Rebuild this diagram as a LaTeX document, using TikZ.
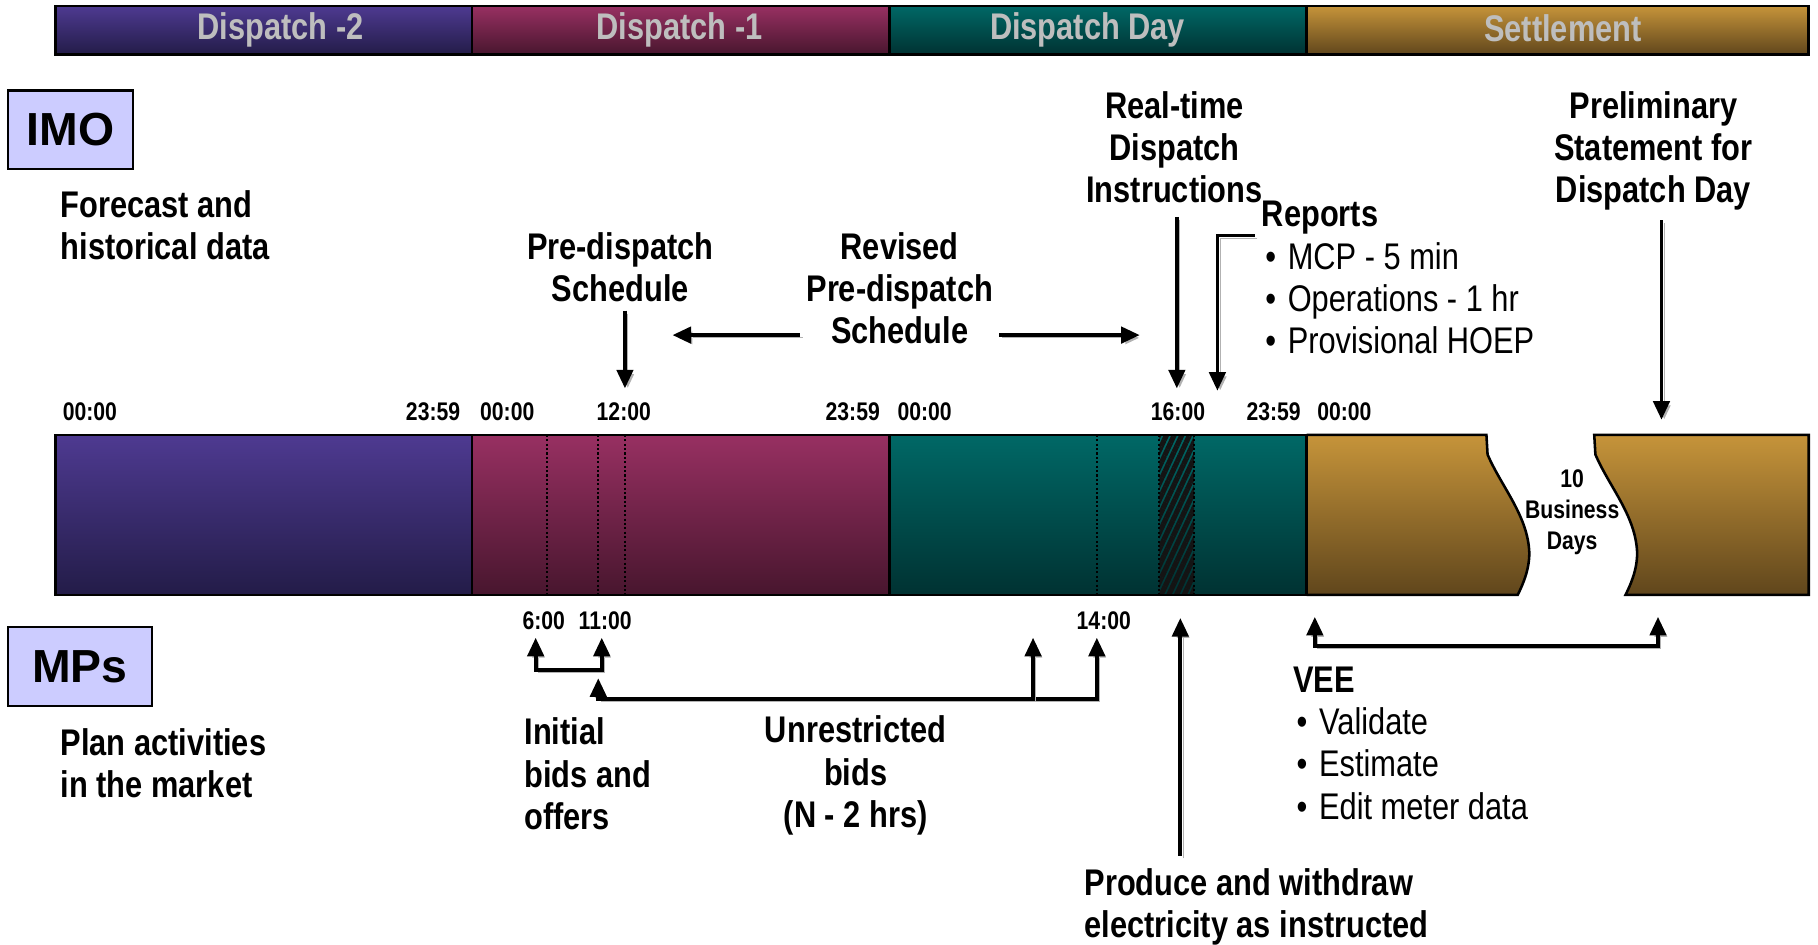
\documentclass[tikz,border=0pt]{standalone}
\usepackage{fontspec}
\setmainfont{Liberation Sans}[FakeStretch=0.83]
\newfontfamily\widesans{Liberation Sans}
\usetikzlibrary{arrows.meta,patterns.meta}

% phase colours (top / bottom of each gradient)
\definecolor{purpT}{RGB}{78,58,145}
\definecolor{purpB}{RGB}{35,28,72}
\definecolor{magT}{RGB}{152,48,98}
\definecolor{magB}{RGB}{72,22,46}
\definecolor{tealT}{RGB}{0,104,102}
\definecolor{tealB}{RGB}{0,50,50}
\definecolor{goldT}{RGB}{198,148,58}
\definecolor{goldB}{RGB}{96,70,28}
\definecolor{phasegray}{RGB}{190,190,190}
\definecolor{actorfill}{RGB}{204,204,255}

\begin{document}
\begin{tikzpicture}[x=0.5pt,y=-0.5pt,
  lbl/.style={font=\fontsize{16}{18.25}\selectfont\bfseries, inner sep=0pt},
  reg/.style={font=\fontsize{16}{18.25}\selectfont, inner sep=0pt},
  tick/.style={font=\fontsize{11}{13.4}\selectfont\bfseries, inner sep=0pt},
  phase/.style={font=\fontsize{16}{18}\selectfont\bfseries, text=phasegray, inner sep=0pt},
  actor/.style={draw=black, line width=1pt, fill=actorfill,
    font=\widesans\fontsize{20}{24}\selectfont\bfseries, inner sep=0pt, minimum height=34pt},
  barline/.style={line width=1.1pt, draw=black},
  dotline/.style={densely dotted, line width=0.9pt},
  arr/.style={line width=1.6pt, line join=miter, -{Triangle[width=7pt,length=8pt]},
    preaction={draw=black!30, transform canvas={xshift=1.2pt,yshift=-1.2pt}}},
  arr2/.style={arr, {Triangle[width=7pt,length=8pt]}-{Triangle[width=7pt,length=8pt]}}
]
\useasboundingbox (0,0) rectangle (1568,815);

% ---------- phase header bar ----------
\shade[top color=purpT, bottom color=purpB] (48,5) rectangle (407,47);
\shade[top color=magT, bottom color=magB] (407,5) rectangle (767,47);
\shade[top color=tealT, bottom color=tealB] (767,5) rectangle (1127,47);
\shade[top color=goldT, bottom color=goldB] (1127,5) rectangle (1560,47);
\draw[barline] (48,5) rectangle (1560,47);
\foreach \x in {407,767,1127} \draw[barline] (\x,5) -- (\x,47);
\node[phase] (ph1) at (242,26) {Dispatch -2};
\node[phase] (ph2) at (586,26) {Dispatch -1};
\node[phase] (ph3) at (938,26) {Dispatch Day};
\node[phase] (ph4) at (1348,24) {Settlement};

% ---------- timeline bar ----------
\shade[top color=purpT, bottom color=purpB] (48,375) rectangle (407,513);
\shade[top color=magT, bottom color=magB] (407,375) rectangle (767,513);
\shade[top color=tealT, bottom color=tealB] (767,375) rectangle (1127,513);
\shade[top color=goldT, bottom color=goldB]
  (1127,375) -- (1282,375) -- (1283,392) .. controls (1295,420) and (1318,445) .. (1319,477)
  .. controls (1319,492) and (1313,505) .. (1309,513) -- (1127,513) -- cycle;
\shade[top color=goldT, bottom color=goldB]
  (1375,375) -- (1560,375) -- (1560,513) -- (1402,513)
  .. controls (1406,505) and (1412,492) .. (1412,477)
  .. controls (1411,445) and (1388,420) .. (1376,392) -- cycle;

% hatched band around 16:00
\fill[pattern={Lines[angle=65,distance=3pt,line width=2.2pt]}, pattern color=black!92]
  (1000,375) rectangle (1030,513);
\draw[dotline] (1000,375) -- (1000,513) (1030,375) -- (1030,513);

% dotted markers
\foreach \x in {472,516,539,946} \draw[dotline] (\x,375) -- (\x,513);

% outlines
\draw[barline] (1127,375) -- (48,375) -- (48,513) -- (1127,513);
\foreach \x in {407,767,1127} \draw[barline] (\x,375) -- (\x,513);
\draw[barline] (1127,375) -- (1282,375) -- (1283,392) .. controls (1295,420) and (1318,445) .. (1319,477)
  .. controls (1319,492) and (1313,505) .. (1309,513) -- (1127,513);
\draw[barline] (1375,375) -- (1560,375) -- (1560,513) -- (1402,513)
  .. controls (1406,505) and (1412,492) .. (1412,477)
  .. controls (1411,445) and (1388,420) .. (1376,392) -- cycle;

\node[tick, align=center] (gap) at (1356,442) {10\\Business\\Days};

% ---------- time labels ----------
\node[tick] (t1) at (77.5,355) {00:00};
\node[tick] (t2) at (373.5,355) {23:59};
\node[tick] (t3) at (437.5,355) {00:00};
\node[tick] (t4) at (538,355) {12:00};
\node[tick] (t5) at (735.5,355) {23:59};
\node[tick] (t6) at (797.5,355) {00:00};
\node[tick] (t7) at (1016,355) {16:00};
\node[tick] (t8) at (1098.5,355) {23:59};
\node[tick] (t9) at (1159.5,355) {00:00};
\node[tick] (b1) at (469,535) {6:00};
\node[tick] (b2) at (522,535) {11:00};
\node[tick] (b3) at (952,535) {14:00};

% ---------- actors ----------
\node[actor, minimum width=54pt] (imo) at (61,112) {IMO};
\node[actor, minimum width=62pt] (mps) at (69,575) {MPs};

\node[lbl, anchor=west, align=left] (fc) at (52,194) {Forecast and\\historical data};
\node[lbl, anchor=west, align=left] (plan) at (52,658.5) {Plan activities\\in the market};

% ---------- IMO outputs ----------
\node[lbl, align=center] (pds) at (535,230.5) {Pre-dispatch\\Schedule};
\node[lbl, align=center] (rpds) at (776,248.5) {Revised\\Pre-dispatch\\Schedule};
\node[lbl, align=center] (rtd) at (1013,127) {Real-time\\Dispatch\\Instructions};
\node[lbl, align=center] (prel) at (1426,130) {Preliminary\\Statement for\\Dispatch Day};
\node[reg, anchor=west, align=left] (rep) at (1088,239.5)
  {\textbf{Reports}\\
   \hspace*{1.5pt}\textbullet\hspace{5pt}MCP - 5 min\\
   \hspace*{1.5pt}\textbullet\hspace{5pt}Operations - 1 hr\\
   \hspace*{1.5pt}\textbullet\hspace{5pt}Provisional HOEP};

% ---------- MP activities ----------
\node[lbl, anchor=west, align=left] (init) at (452,667.5) {Initial\\bids and\\offers};
\node[lbl, align=center] (unr) at (738,669) {Unrestricted\\bids\\(N - 2 hrs)};
\node[lbl, anchor=west, align=left] (prod) at (935,782) {Produce and withdraw\\electricity as instructed};
\node[reg, anchor=west, align=left] (vee) at (1115,641)
  {\textbf{VEE}\\
   \hspace*{1.5pt}\textbullet\hspace{5pt}Validate\\
   \hspace*{1.5pt}\textbullet\hspace{5pt}Estimate\\
   \hspace*{1.5pt}\textbullet\hspace{5pt}Edit meter data};

% ---------- connector end points ----------
\coordinate (pdsA) at (539,268);   \coordinate (noon) at (539,335);
\coordinate (revL) at (690,289);   \coordinate (revLt) at (580,289);
\coordinate (revR) at (862,289);   \coordinate (revRt) at (983,289);
\coordinate (rtdA) at (1015,187);  \coordinate (rtdT) at (1015,335);
\coordinate (repA) at (1082,203);  \coordinate (repT) at (1050,337);
\coordinate (prelA) at (1433,190); \coordinate (prelT) at (1433,362);
\coordinate (six) at (462,550);    \coordinate (eleven) at (519,550);
\coordinate (elevenB) at (516,585);
\coordinate (nminus) at (891,550); \coordinate (fourteen) at (946,550);
\coordinate (prodA) at (1018,738); \coordinate (prodT) at (1018,533);
\coordinate (veeL) at (1134,532);  \coordinate (veeR) at (1430,532);

% ---------- connectors ----------
\draw[arr] (pdsA) -- (noon);
\draw[arr] (revL) -- (revLt);
\draw[arr] (revR) -- (revRt);
\draw[arr] (rtdA) -- (rtdT);
\draw[arr] (repA) -| (repT);
\draw[arr] (prelA) -- (prelT);
\draw[arr2] (six) |- ([yshift=-14pt]eleven) -- (eleven);
\draw[arr2] (elevenB) |- ([yshift=-26.5pt]fourteen) -- (fourteen);
\draw[arr] ([yshift=-26.5pt]nminus) -- (nminus);
\draw[arr] (prodA) -- (prodT);
\draw[arr2] (veeL) |- ([yshift=-12.5pt]veeR) -- (veeR);
\end{tikzpicture}
\end{document}
